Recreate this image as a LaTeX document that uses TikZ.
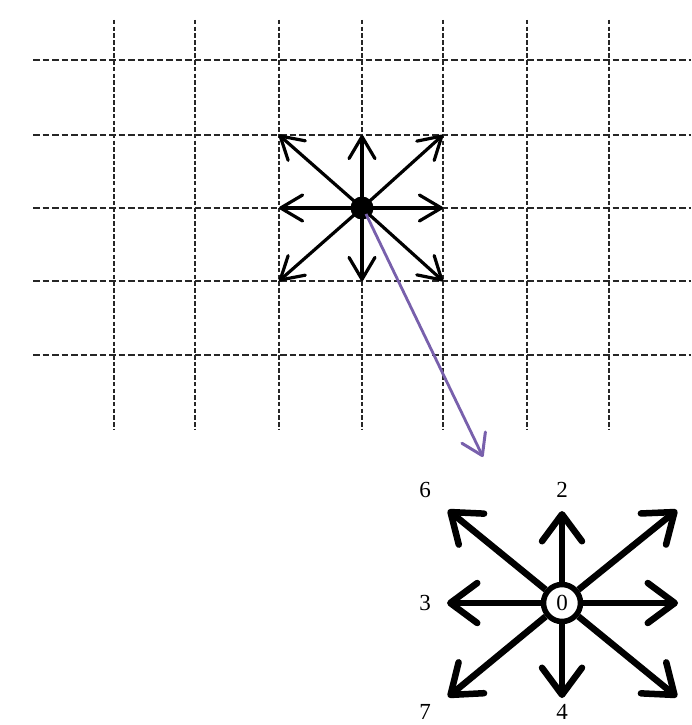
\documentclass[tikz,border=0pt]{standalone}
\usepackage{fontspec}
\setmainfont{Liberation Serif}
\usetikzlibrary{arrows.meta}
\definecolor{lav}{RGB}{120,96,172}
\newcommand\digitfont{\fontsize{23pt}{23pt}\selectfont}
\tikzset{
  hgrid/.style={line width=2.8pt, dash pattern=on 6.5pt off 3pt, black!85},
  vgrid/.style={line width=2.8pt, dash pattern=on 4.5pt off 2.2pt, black!85},
  smallarr/.style={line width=3.2pt, line cap=round, -{Straight Barb[length=22pt,width=26pt,line width=3.2pt,round]}},
  bigarr/.style={line width=6.5pt, -{Straight Barb[length=27pt,width=40pt,line width=6.5pt,round]}},
  purplearr/.style={lav, line width=2.8pt, -{Straight Barb[length=20pt,width=26pt,line width=3pt,round]}},
  lbl/.style={font=\digitfont, inner sep=0pt}
}
\begin{document}
\begin{tikzpicture}[x=1pt,y=-1pt]
\useasboundingbox (0,0) rectangle (691,725);
\fill[white] (0,0) rectangle (691,725);
% grid
\foreach \yy [count=\i] in {60,135,208,281,355} {
  \coordinate (hl\i) at (33,\yy);
  \coordinate (hr\i) at (691,\yy);
  \draw[hgrid] (hl\i) -- (hr\i);
}
\foreach \xx [count=\i] in {114,195,279,362,443,527,609} {
  \coordinate (vt\i) at (\xx,20);
  \coordinate (vb\i) at (\xx,430);
  \draw[vgrid] (vt\i) -- (vb\i);
}
% top star
\coordinate (c) at (362,208);
\coordinate (nw) at (279,135);
\coordinate (n) at (362,135);
\coordinate (ne) at (443,135);
\coordinate (w) at (279,208);
\coordinate (e) at (443,208);
\coordinate (sw) at (279,281);
\coordinate (s) at (362,281);
\coordinate (se) at (443,281);
\foreach \d in {nw,n,ne,w,e,sw,s,se} { \draw[smallarr] (c) -- (\d); }
\fill (c) circle (11.5pt);
% purple arrow
\coordinate (ps) at (366,214);
\coordinate (pa) at (483,457);
\draw[purplearr] (ps) -- (pa);
% bottom star
\node[circle, draw, fill=white, line width=5.5pt, minimum size=37pt, inner sep=0pt, font=\digitfont] (o) at (562,603) {0};
\coordinate (Bnw) at (448,510);
\coordinate (Bn) at (562,511);
\coordinate (Bne) at (677,510);
\coordinate (Bw) at (447,603);
\coordinate (Be) at (678,603);
\coordinate (Bsw) at (448,697);
\coordinate (Bs) at (562,698);
\coordinate (Bse) at (677,697);
\foreach \d in {Bnw,Bn,Bne,Bw,Be,Bsw,Bs,Bse} { \draw[bigarr] (o) -- (\d); }
\node[lbl] (l6) at (425,490) {6};
\node[lbl] (l2) at (562,490) {2};
\node[lbl] (l3) at (425,603) {3};
\node[lbl] (l7) at (425,712) {7};
\node[lbl] (l4) at (562,712) {4};
\end{tikzpicture}
\end{document}
